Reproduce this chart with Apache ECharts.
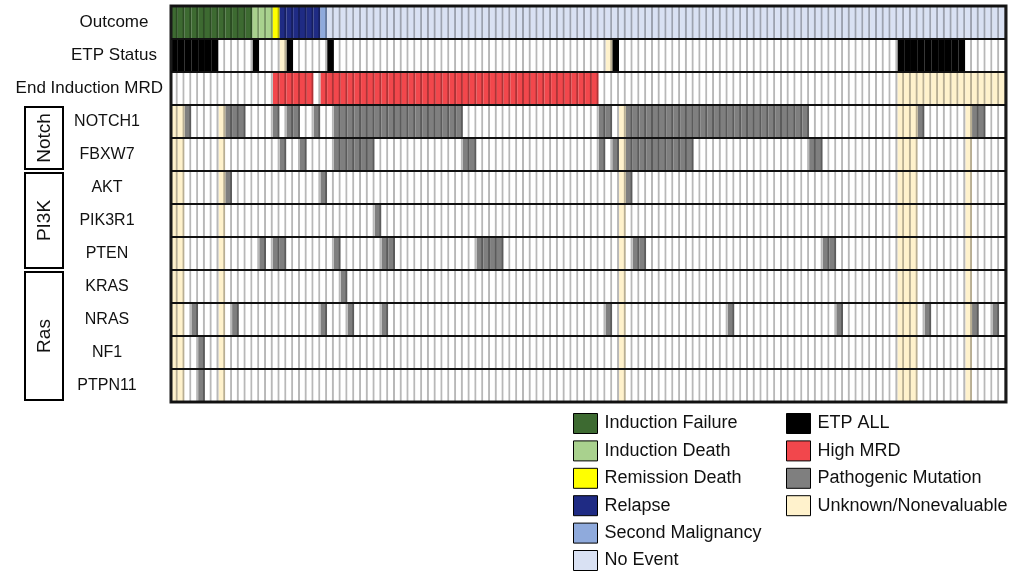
<!DOCTYPE html>
<html><head><meta charset="utf-8">
<script src="https://cdn.jsdelivr.net/npm/echarts@6/dist/echarts.min.js"></script>
<style>html,body{margin:0;padding:0;background:#fff}#c{width:1014px;height:577px}</style>
</head><body><div id="c"></div>
<script>
// ---------------- DATA ----------------
const nPatients = 123;
const rowLabels = ['Outcome','ETP Status','End Induction MRD','NOTCH1','FBXW7','AKT','PIK3R1','PTEN','KRAS','NRAS','NF1','PTPN11'];
// run-length lists read left to right across the patients ('' = negative / no finding)
const outcomeRuns = [['Induction Failure',12],['Induction Death',3],['Remission Death',1],['Relapse',6],['Second Malignancy',1],['No Event',100]];
const etpRuns = [['ETP ALL',7],['',5],['ETP ALL',1],['',3],['Unknown/Nonevaluable',1],['ETP ALL',1],['',5],['ETP ALL',1],['',40],['Unknown/Nonevaluable',1],['ETP ALL',1],['',41],['ETP ALL',10],['',6]];
const mrdRuns = [['',15],['High MRD',6],['',1],['High MRD',41],['',44],['Unknown/Nonevaluable',16]];
// gene rows: patient column ranges [from, to] (0-based) with a pathogenic mutation
const geneUnknown = [[0,1],[7,7],[66,66],[107,109],[117,117]];
const NOTCH1 = [[2,2],[8,10],[15,15],[17,18],[21,21],[24,42],[63,64],[67,93],[110,110],[118,119]];
const FBXW7  = [[16,16],[19,19],[24,29],[43,44],[63,63],[65,65],[67,76],[94,95]];
const AKT    = [[8,8],[22,22],[67,67]];
const PIK3R1 = [[30,30]];
const PTEN   = [[13,13],[15,16],[24,24],[31,32],[45,48],[68,69],[96,97]];
const KRAS   = [[25,25]];
const NRAS   = [[3,3],[9,9],[22,22],[26,26],[31,31],[64,64],[82,82],[98,98],[111,111],[118,118],[121,121]];
const NF1    = [[4,4]];
const PTPN11 = [[4,4]];
const geneRows = {NOTCH1, FBXW7, AKT, PIK3R1, PTEN, KRAS, NRAS, NF1, PTPN11};
const groups = [['Notch','NOTCH1','FBXW7'],['PI3K','AKT','PTEN'],['Ras','KRAS','PTPN11']];
const legendLeft = ['Induction Failure','Induction Death','Remission Death','Relapse','Second Malignancy','No Event'];
const legendRight = ['ETP ALL','High MRD','Pathogenic Mutation','Unknown/Nonevaluable'];
const colors = {
  'Induction Failure':'#3d6a31','Induction Death':'#a9d18e','Remission Death':'#ffff00','Relapse':'#1f2b84',
  'Second Malignancy':'#8faadc','No Event':'#d9e1f3','ETP ALL':'#000000','High MRD':'#f2474c',
  'Pathogenic Mutation':'#7f7f7f','Unknown/Nonevaluable':'#fff2cc','':'#ffffff'
};

// ---------------- BUILD ----------------
const cells = {};
Object.keys(colors).forEach(k => cells[k] = []);
function addRuns(runs, row) {
  let c = 0;
  runs.forEach(([st, n]) => { for (let i = 0; i < n; i++) cells[st].push([c++, row]); });
}
addRuns(outcomeRuns, 0); addRuns(etpRuns, 1); addRuns(mrdRuns, 2);
function inRanges(r, c) { return r.some(([a,b]) => c >= a && c <= b); }
Object.keys(geneRows).forEach(g => {
  const row = rowLabels.indexOf(g);
  for (let c = 0; c < nPatients; c++) {
    const st = inRanges(geneUnknown, c) ? 'Unknown/Nonevaluable' : (inRanges(geneRows[g], c) ? 'Pathogenic Mutation' : '');
    cells[st].push([c, row]);
  }
});
const patients = Array.from({length:nPatients}, (_, i) => 'P' + (i + 1));

function renderCell(params, api) {
  const c = api.coord([api.value(0), api.value(1)]);
  const s = api.size([1, 1]);
  const x = c[0] - s[0] / 2, y = c[1] - s[1] / 2;
  return {type:'group', children:[
    {type:'rect', shape:{x:x, y:y, width:s[0], height:s[1]}, style:{fill:api.visual('color')}},
    {type:'line', shape:{x1:x + s[0] - 1, y1:y, x2:x + s[0] - 1, y2:y + s[1]}, style:{stroke:'rgba(0,0,0,0.28)', lineWidth:2}}
  ]};
}

const series = Object.keys(colors).map(st => ({
  type:'custom', name: st || 'Negative', renderItem: renderCell, data: cells[st],
  itemStyle:{color: colors[st]}, encode:{x:0, y:1}, silent:true, animation:false
}));

const FONT = '"Liberation Sans", Arial, sans-serif';
const chart = echarts.init(document.getElementById('c'), null, {renderer:'canvas'});
const legendCommon = {
  orient:'vertical', icon:'rect', itemWidth:24, itemHeight:20, itemGap:6.4, selectedMode:false,
  padding:[5,5,0,5], height:165,
  itemStyle:{borderColor:'#000', borderWidth:1},
  textStyle:{fontSize:18, lineHeight:20, color:'#111', fontFamily:FONT, padding:[0,0,0,2]}
};
const topRows = ['Outcome','ETP Status'];
chart.setOption({
  animation:false,
  backgroundColor:'#fff',
  grid:{left:171, top:6, width:835, height:396, show:true, z:10, borderColor:'#1a1a1a', borderWidth:3, backgroundColor:'transparent'},
  xAxis:{type:'category', data:patients, axisLine:{show:false}, axisTick:{show:false}, axisLabel:{show:false}, splitLine:{show:false}},
  yAxis:{type:'category', data:rowLabels, inverse:true, z:10,
    axisLine:{show:false}, axisTick:{show:false},
    axisLabel:{fontSize:17, color:'#111', fontFamily:FONT, margin:8, align:'right',
      formatter: v => topRows.includes(v) ? '{t|' + v + '}' : (v === 'End Induction MRD' ? v : '{g|' + v + '}'),
      rich:{
        t:{width:98, align:'center', fontSize:17, fontFamily:FONT, color:'#111'},
        g:{width:112, align:'center', fontSize:16, fontFamily:FONT, color:'#111'}
      }},
    splitLine:{show:true, lineStyle:{color:'#111', width:2}}},
  legend:[
    Object.assign({left:568, top:408, data:legendLeft}, legendCommon),
    Object.assign({left:781, top:408, data:legendRight}, legendCommon)
  ],
  series: series
});

// group brackets on the left, positioned from the y axis scale
const graphics = [];
const half = (chart.convertToPixel({yAxisIndex:0}, 1) - chart.convertToPixel({yAxisIndex:0}, 0)) / 2;
groups.forEach(([name, first, last]) => {
  const top = chart.convertToPixel({yAxisIndex:0}, rowLabels.indexOf(first)) - half + 2;
  const bot = chart.convertToPixel({yAxisIndex:0}, rowLabels.indexOf(last)) + half - 2;
  graphics.push({type:'rect', shape:{x:25, y:top, width:38, height:bot - top}, style:{fill:'none', stroke:'#000', lineWidth:2}});
  graphics.push({type:'text', x:45, y:(top + bot) / 2, rotation:Math.PI / 2,
    style:{text:name, fontSize:19, fontFamily:FONT, fill:'#111', align:'center', verticalAlign:'middle'}});
});
chart.setOption({graphic:graphics});
</script></body></html>
